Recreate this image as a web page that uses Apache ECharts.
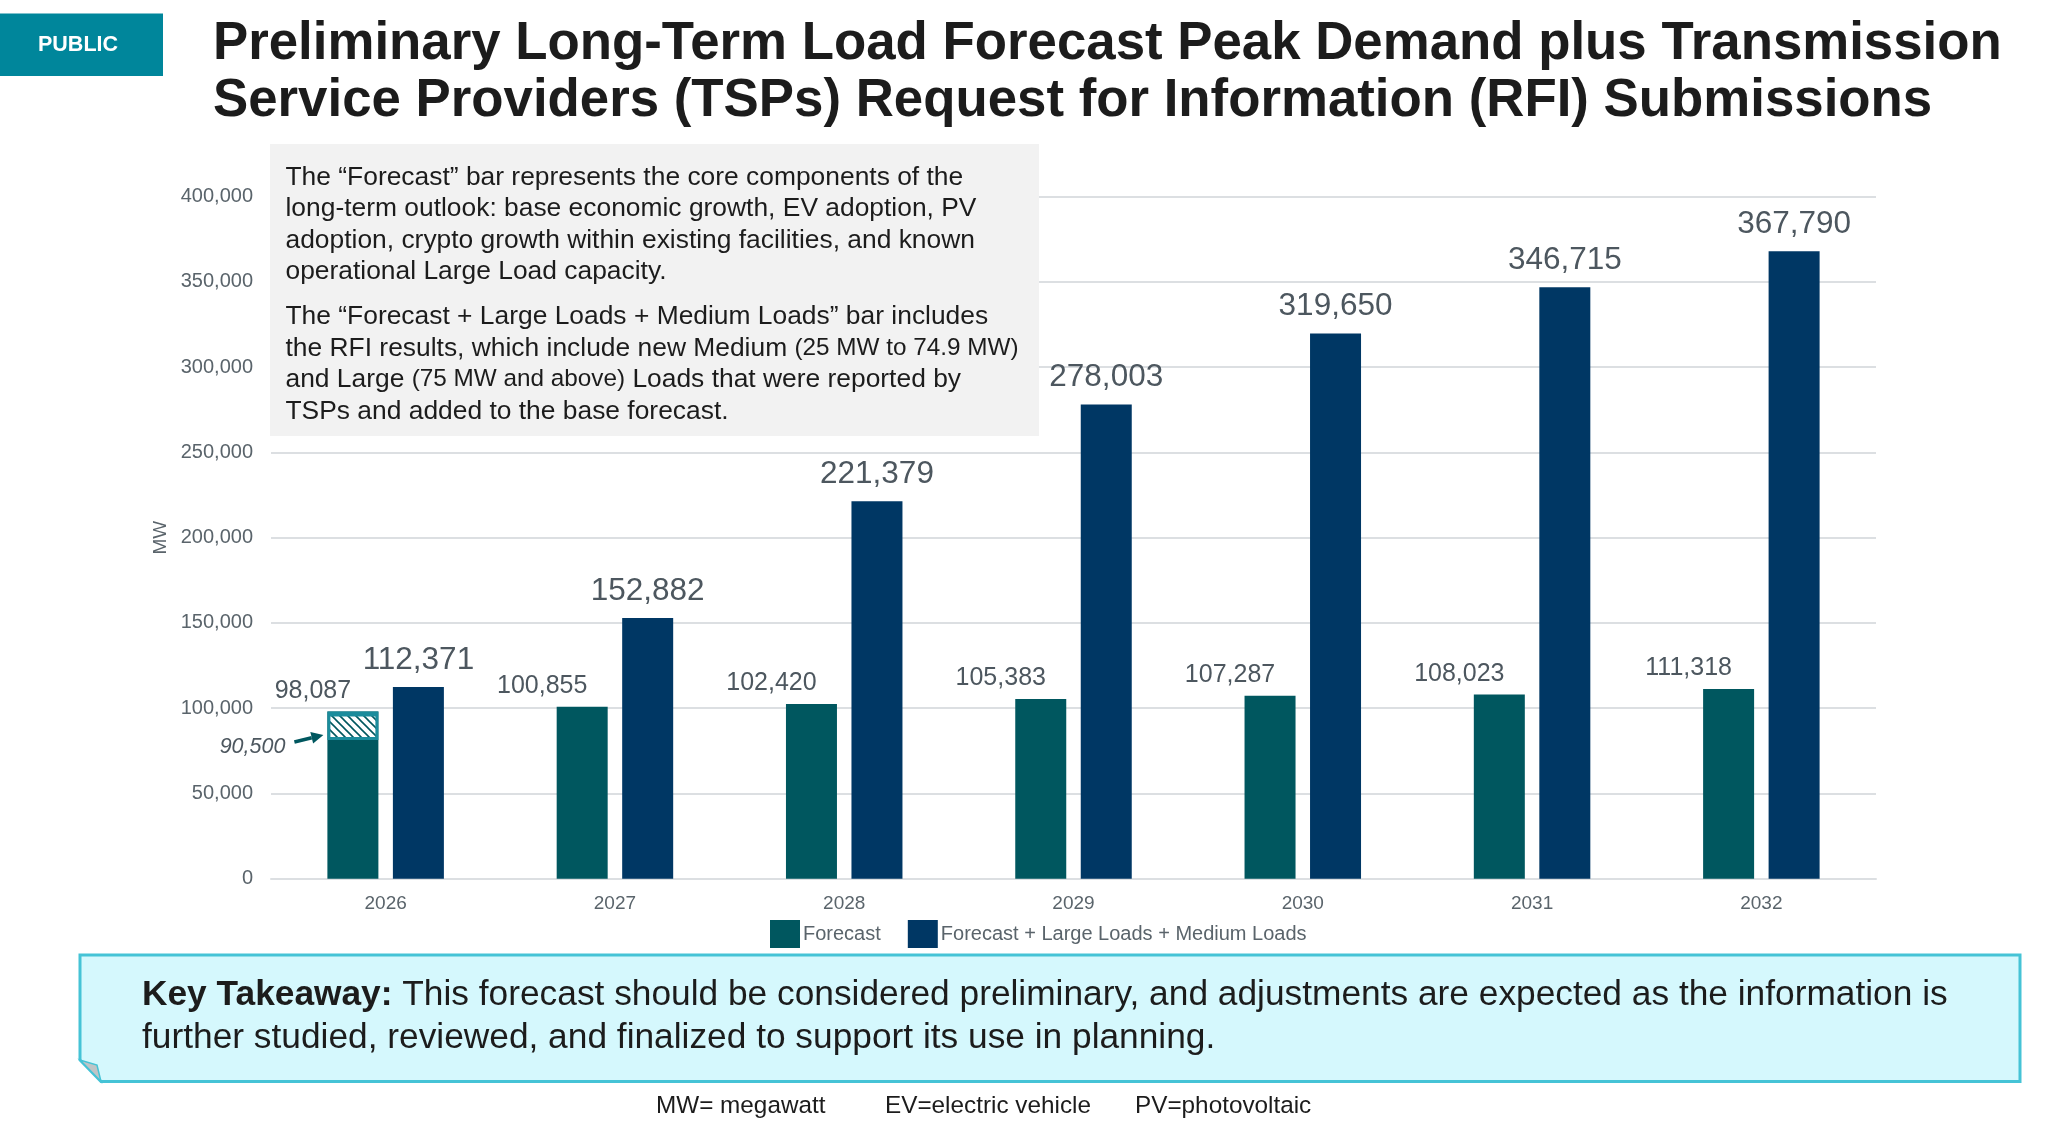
<!DOCTYPE html>
<html>
<head>
<meta charset="utf-8">
<script src="https://cdn.jsdelivr.net/npm/echarts@6/dist/echarts.min.js"></script>
<style>
html,body{margin:0;padding:0;background:#fff;}
#chart{width:2048px;height:1124px;}
</style>
</head>
<body>
<div id="chart"></div>
<script>
// ---- data ----
const categories = ['2026', '2027', '2028', '2029', '2030', '2031', '2032'];
const forecast = [98087, 100855, 102420, 105383, 107287, 108023, 111318];
const forecastPlus = [112371, 152882, 221379, 278003, 319650, 346715, 367790];
const yTicks = [0, 50000, 100000, 150000, 200000, 250000, 300000, 350000, 400000];
// hatched segment on the 2026 Forecast bar: [category index, bottom, top, annotation]
const hatchSegment = [[0, 81400, 98087, '90,500']];
const seriesNames = ['Forecast', 'Forecast + Large Loads + Medium Loads'];

const FONT = '"Liberation Sans", Arial, Helvetica, sans-serif';
const TEAL = '#00575F';
const NAVY = '#003764';
const BAR_W = 51;
const BAR_GAP_PX = 14.5;

function hatchPattern() {
  const c = document.createElement('canvas');
  c.width = 8; c.height = 8;
  const g = c.getContext('2d');
  g.fillStyle = '#ffffff';
  g.fillRect(0, 0, 8, 8);
  g.strokeStyle = TEAL;
  g.lineWidth = 1.6;
  g.beginPath();
  g.moveTo(0, 0); g.lineTo(8, 8);
  g.moveTo(-4, 4); g.lineTo(4, 12);
  g.moveTo(4, -4); g.lineTo(12, 4);
  g.stroke();
  return c;
}
const pattern = hatchPattern();

const chart = echarts.init(document.getElementById('chart'), null, {renderer: 'canvas'});

const option = {
  backgroundColor: '#ffffff',
  animation: false,
  textStyle: {fontFamily: FONT},
  grid: {left: 271, right: 172, top: 196.4, bottom: 245.2, containLabel: false},
  legend: {
    data: seriesNames,
    left: 765, top: 915,
    itemWidth: 30, itemHeight: 28, itemGap: 27,
    icon: 'rect',
    textStyle: {fontSize: 20, color: '#5a646b', fontFamily: FONT, padding: [0, 0, 0, -2]}
  },
  xAxis: {
    type: 'category',
    data: categories,
    axisLine: {show: true, lineStyle: {color: '#DCDFE2', width: 2}},
    axisTick: {show: false},
    axisLabel: {fontSize: 19, color: '#5a646b', margin: 15, fontFamily: FONT}
  },
  yAxis: {
    type: 'value',
    min: 0, max: 400000, interval: 50000,
    name: 'MW',
    nameLocation: 'middle',
    nameGap: 100,
    nameTextStyle: {fontSize: 19, color: '#5a646b', fontFamily: FONT},
    axisLine: {show: false},
    axisTick: {show: false},
    splitLine: {lineStyle: {color: '#DCDFE2', width: 2}},
    axisLabel: {
      fontSize: 20, color: '#5a646b', margin: 18, fontFamily: FONT,
      formatter: v => yTicks.includes(v) ? v.toLocaleString('en-US') : ''
    }
  },
  series: [
    {
      name: seriesNames[0],
      type: 'bar',
      data: forecast,
      barWidth: BAR_W,
      barGap: (BAR_GAP_PX / BAR_W * 100) + '%',
      itemStyle: {color: TEAL},
      label: {
        show: true, position: 'top', distance: 8, offset: [-40, 0],
        fontSize: 25, color: '#4d575f', fontFamily: FONT,
        formatter: p => p.value.toLocaleString('en-US')
      },
      z: 2
    },
    {
      name: seriesNames[1],
      type: 'bar',
      data: forecastPlus,
      barWidth: BAR_W,
      itemStyle: {color: NAVY},
      label: {
        show: true, position: 'top', distance: 11,
        fontSize: 31.5, color: '#4d575f', fontFamily: FONT,
        formatter: p => p.value.toLocaleString('en-US')
      },
      z: 2
    },
    {
      type: 'custom',
      data: hatchSegment,
      z: 5,
      silent: true,
      renderItem: function (params, api) {
        const idx = api.value(0);
        const top = api.coord([idx, api.value(2)]);
        const bot = api.coord([idx, api.value(1)]);
        const cx = top[0] - (BAR_W + BAR_GAP_PX) / 2;
        const x0 = cx - BAR_W / 2;
        const yT = top[1], yB = bot[1];
        const ax0 = x0 - 33, ay0 = yB + 2;
        const ax1 = x0 - 4, ay1 = yB - 5;
        const ang = Math.atan2(ay1 - ay0, ax1 - ax0);
        const hl = 12, hw = 6;
        const bx = ax1 - hl * Math.cos(ang), by = ay1 - hl * Math.sin(ang);
        const px = -Math.sin(ang) * hw, py = Math.cos(ang) * hw;
        return {
          type: 'group',
          children: [
            {type: 'rect', shape: {x: x0, y: yT, width: BAR_W, height: yB - yT},
             style: {fill: '#1B8C9C'}},
            {type: 'rect', shape: {x: x0 + 3, y: yT + 5, width: BAR_W - 6, height: yB - yT - 8},
             style: {fill: {image: pattern, repeat: 'repeat'}}},
            {type: 'line', shape: {x1: ax0, y1: ay0, x2: bx, y2: by},
             style: {stroke: TEAL, lineWidth: 3.5}},
            {type: 'polygon', shape: {points: [[ax1, ay1], [bx + px, by + py], [bx - px, by - py]]},
             style: {fill: TEAL}},
            {type: 'text', x: x0 - 42, y: yB + 7,
             style: {text: api.value(3), fontSize: 21.5, fontStyle: 'italic', fill: '#4d575f',
                     fontFamily: FONT, align: 'right', verticalAlign: 'middle'}}
          ]
        };
      }
    }
  ],
  graphic: [
    {type: 'rect', shape: {x: 0, y: 13.5, width: 163, height: 62.5}, style: {fill: '#00869B'}, z: 10},
    {type: 'text', x: 78, y: 45, style: {text: 'PUBLIC', fontSize: 21.5, fontWeight: 'bold', fill: '#ffffff',
      fontFamily: FONT, align: 'center', verticalAlign: 'middle'}, z: 11},
    {type: 'text', x: 213, y: 44.5, style: {text: 'Preliminary Long-Term Load Forecast Peak Demand plus Transmission',
      fontSize: 52.8, fontWeight: 'bold', fill: '#1c1c1c', fontFamily: FONT, verticalAlign: 'middle'}, z: 10},
    {type: 'text', x: 213, y: 101.5, style: {text: 'Service Providers (TSPs) Request for Information (RFI) Submissions',
      fontSize: 52.8, fontWeight: 'bold', fill: '#1c1c1c', fontFamily: FONT, verticalAlign: 'middle'}, z: 10},
    // explanatory box
    {type: 'rect', shape: {x: 270, y: 144, width: 769, height: 292}, style: {fill: '#F2F2F2'}, z: 10},
    {type: 'text', x: 285.5, y: 161.5, z: 11, style: {
      text: 'The \u201cForecast\u201d bar represents the core components of the\nlong-term outlook: base economic growth, EV adoption, PV\nadoption, crypto growth within existing facilities, and known\noperational Large Load capacity.',
      fontSize: 26.4, lineHeight: 31.5, fill: '#1c1c1c', fontFamily: FONT, verticalAlign: 'top'}},
    {type: 'text', x: 285.5, y: 301, z: 11, style: {
      text: 'The \u201cForecast + Large Loads + Medium Loads\u201d bar includes\nthe RFI results, which include new Medium {s|(25 MW to 74.9 MW)}\nand Large {s|(75 MW and above)} Loads that were reported by\nTSPs and added to the base forecast.',
      fontSize: 26.4, lineHeight: 31.5, fill: '#1c1c1c', fontFamily: FONT, verticalAlign: 'top',
      rich: {s: {fontSize: 24.3, lineHeight: 31.5, fill: '#1c1c1c', fontFamily: FONT}}}},
    // key takeaway box
    {type: 'polygon', z: 10, shape: {points: [[80, 955], [2020, 955], [2020, 1081.5], [101, 1081.5], [80, 1060]]},
      style: {fill: '#D5F8FD', stroke: '#45C3D6', lineWidth: 3}},
    {type: 'polygon', z: 11, shape: {points: [[80, 1060], [101, 1081.5], [97, 1065]]},
      style: {fill: '#BFC4C6', stroke: '#45C3D6', lineWidth: 1.5}},
    {type: 'text', x: 142, y: 995, z: 12, style: {
      text: '{b|Key Takeaway:} This forecast should be considered preliminary, and adjustments are expected as the information is',
      fontSize: 35.3, fill: '#1c1c1c', fontFamily: FONT, verticalAlign: 'middle',
      rich: {b: {fontSize: 35.3, fontWeight: 'bold', fill: '#1c1c1c', fontFamily: FONT}}}},
    {type: 'text', x: 142, y: 1038, z: 12, style: {
      text: 'further studied, reviewed, and finalized to support its use in planning.',
      fontSize: 35.3, fill: '#1c1c1c', fontFamily: FONT, verticalAlign: 'middle'}},
    // footer
    {type: 'text', x: 656, y: 1106, z: 10, style: {text: 'MW= megawatt', fontSize: 24.3, fill: '#1c1c1c', fontFamily: FONT, verticalAlign: 'middle'}},
    {type: 'text', x: 885, y: 1106, z: 10, style: {text: 'EV=electric vehicle', fontSize: 24.3, fill: '#1c1c1c', fontFamily: FONT, verticalAlign: 'middle'}},
    {type: 'text', x: 1135, y: 1106, z: 10, style: {text: 'PV=photovoltaic', fontSize: 24.3, fill: '#1c1c1c', fontFamily: FONT, verticalAlign: 'middle'}}
  ]
};
chart.setOption(option);
</script>
</body>
</html>
